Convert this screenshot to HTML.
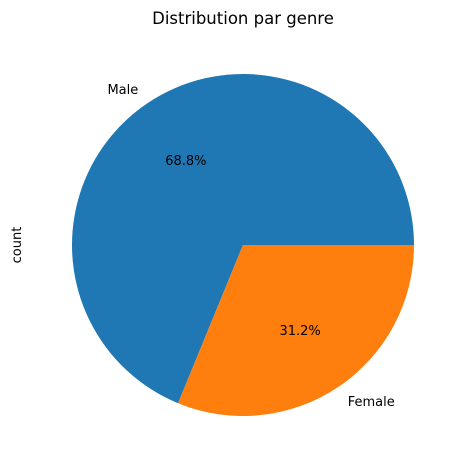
<!DOCTYPE html>
<html><head><meta charset="utf-8"><style>
html,body{margin:0;padding:0;background:#fff;}
svg{display:block;font-family:"DejaVu Sans","Liberation Sans",sans-serif;}
</style></head><body>
<svg id="chart" width="467" height="470" viewBox="0 0 467 470">
<text x="243" y="24" text-anchor="middle" font-size="16.5" fill="#000">Distribution par genre</text>
<text x="0" y="0" transform="translate(21,245) rotate(-90)" text-anchor="middle" font-size="13" fill="#000">count</text>
<g id="slices"></g>
</svg>
<script>
const categories = ["Male", "Female"];
const values = [68.8, 31.2];
const colors = ["#1f77b4", "#ff7f0e"];
const cx = 243, cy = 245, r = 171;
const ns = "http://www.w3.org/2000/svg";
const g = document.getElementById("slices");
const total = values.reduce((a, b) => a + b, 0);
let start = 0;
function pt(deg, rad) {
  const a = deg * Math.PI / 180;
  return [cx + rad * Math.cos(a), cy - rad * Math.sin(a)];
}
values.forEach((v, i) => {
  const sweep = v / total * 360;
  const end = start + sweep;
  const p0 = pt(start, r), p1 = pt(end, r);
  const large = sweep > 180 ? 1 : 0;
  const path = document.createElementNS(ns, "path");
  path.setAttribute("d", `M${cx},${cy} L${p0[0]},${p0[1]} A${r},${r} 0 ${large} 0 ${p1[0]},${p1[1]} Z`);
  path.setAttribute("fill", colors[i]);
  
  
  g.appendChild(path);
  const mid = start + sweep / 2;
  const lp = pt(mid, r * 1.1);
  const lab = document.createElementNS(ns, "text");
  lab.setAttribute("x", lp[0]);
  lab.setAttribute("y", lp[1] + 5);
  lab.setAttribute("font-size", "13");
  lab.setAttribute("text-anchor", Math.cos(mid * Math.PI / 180) < 0 ? "end" : "start");
  lab.textContent = categories[i];
  
  
  g.appendChild(lab);
  const pp = pt(mid, r * 0.6);
  const pct = document.createElementNS(ns, "text");
  pct.setAttribute("x", pp[0]);
  pct.setAttribute("y", pp[1] + 5);
  pct.setAttribute("font-size", "13");
  pct.setAttribute("text-anchor", "middle");
  pct.textContent = (v / total * 100).toFixed(1) + "%";
  
  
  g.appendChild(pct);
  start = end;
});
</script>
</body></html>
